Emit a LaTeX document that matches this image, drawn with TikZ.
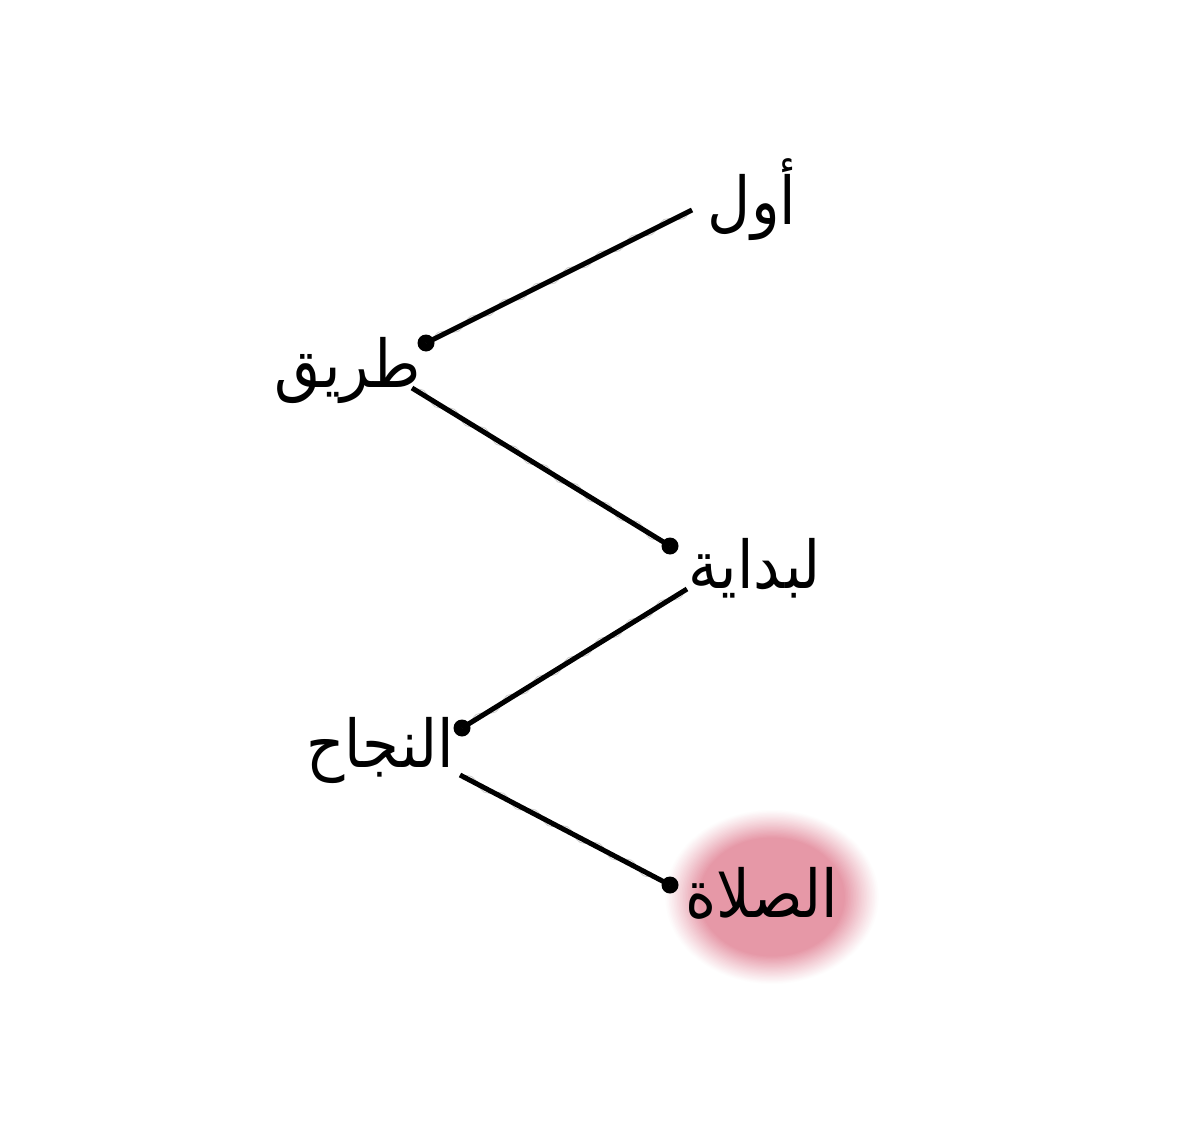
\documentclass[tikz,border=0pt]{standalone}
\usepackage{fontspec}
\newfontfamily\arabicfont[Script=Arabic]{DejaVu Sans}
\TeXXeTstate=1
\usetikzlibrary{decorations.pathmorphing}
\definecolor{glowpink}{RGB}{230,152,167}
\tikzset{
  word/.style={font=\arabicfont\fontsize{66}{68}\selectfont, inner sep=0pt, xscale=0.9},
  link/.style={line width=5pt, black},
  ghost/.style={draw=black!20, line width=0.8pt, decorate, decoration={snake, amplitude=4pt, segment length=36pt}},
  dot/.style={circle, fill=black, inner sep=0pt, minimum size=17pt}
}
\begin{document}
\begin{tikzpicture}[x=1pt,y=-1pt]
\useasboundingbox (0,0) rectangle (1200,1121);
\fill[white] (0,0) rectangle (1200,1121);
\coordinate (gc) at (772,897);
\foreach \i in {0,...,40}{
  \pgfmathsetmacro{\rx}{108-\i*1.6}
  \pgfmathsetmacro{\ry}{88-\i*1.3}
  \pgfmathsetmacro{\p}{min(100,100*(\i/22)^1.1)}
  \fill[glowpink!\p!white] (gc) ellipse ({\rx} and {\ry});
}
\node[word] (w1) at (752,200) {\beginR أول\endR};
\node[word] (w2) at (348,370) {\beginR طريق\endR};
\node[word] (w3) at (755,568) {\beginR لبداية\endR};
\node[word] (w4) at (380,750) {\beginR النجاح\endR};
\node[word] (w5) at (762,893) {\beginR الصلاة\endR};
\coordinate (s1) at (692,210);
\node[dot] (d1) at (426,343) {};
\coordinate (s2) at (412,388);
\node[dot] (d2) at (670,546) {};
\coordinate (s3) at (687,589);
\node[dot] (d3) at (462,728) {};
\coordinate (s4) at (460,775);
\node[dot] (d4) at (670,885) {};
\draw[ghost] (s1) -- (d1.center);
\draw[ghost] (s2) -- (d2.center);
\draw[ghost] (s3) -- (d3.center);
\draw[ghost] (s4) -- (d4.center);
\draw[link] (s1) -- (d1.center);
\draw[link] (s2) -- (d2.center);
\draw[link] (s3) -- (d3.center);
\draw[link] (s4) -- (d4.center);
\end{tikzpicture}
\end{document}
